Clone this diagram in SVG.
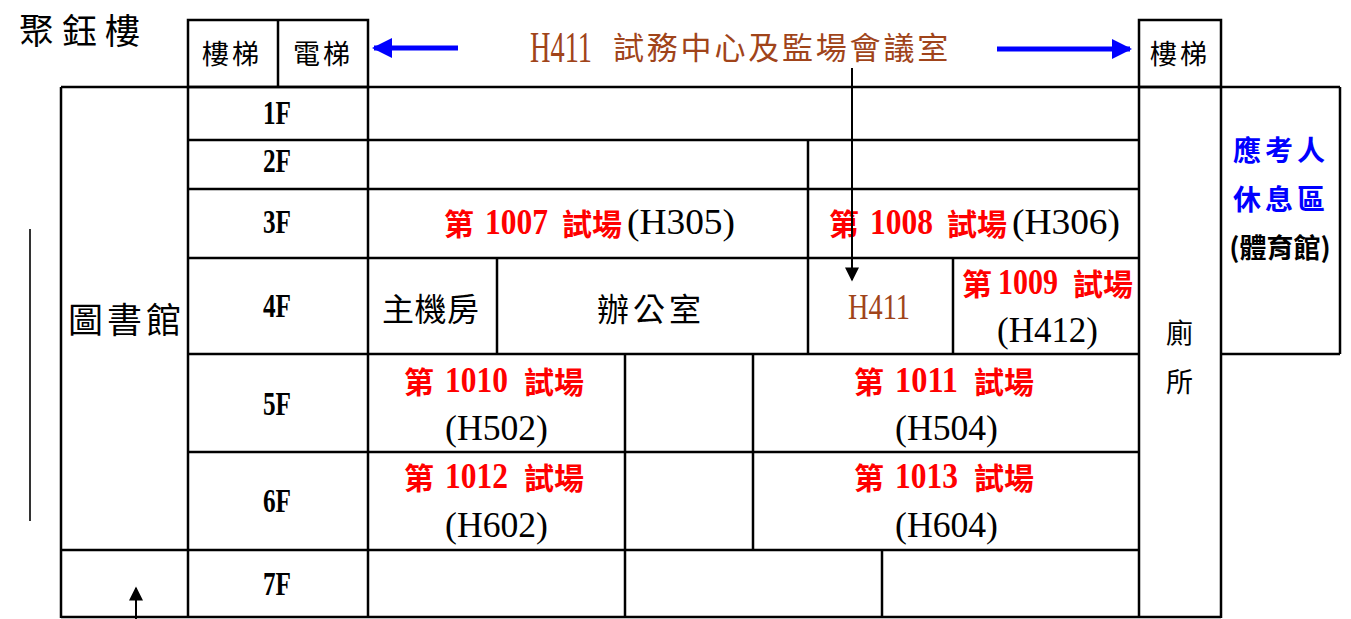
<svg xmlns="http://www.w3.org/2000/svg" width="1351" height="619" viewBox="0 0 1351 619">
<style>
.ln{stroke:#000;stroke-width:2.5;fill:none}
.cj{font-family:"Noto Sans CJK TC","Noto Sans CJK SC",sans-serif;fill:#000}
.la{font-family:"Liberation Serif","Noto Sans CJK TC",serif;fill:#000}
.fl{font-family:"Liberation Serif",serif;font-size:33px;font-weight:bold;fill:#000}
.rc{font-family:"Noto Sans CJK TC",sans-serif;font-size:30px;font-weight:bold;fill:#ff0000}
.rd{font-family:"Liberation Serif",serif;font-size:35px;font-weight:bold;fill:#ff0000}
.hb{font-family:"Liberation Serif",serif;font-size:35px;fill:#000}
.br{fill:#a0441a}
</style>
<defs>
<marker id="ab" viewBox="0 0 10 10" refX="9" refY="5" markerWidth="4" markerHeight="4" orient="auto" markerUnits="strokeWidth"><path d="M0,0 L10,5 L0,10 z" fill="#0000ff"/></marker>
<marker id="ak" viewBox="0 0 10 10" refX="9" refY="5" markerWidth="8" markerHeight="7" orient="auto" markerUnits="strokeWidth"><path d="M0,0 L10,5 L0,10 z" fill="#000"/></marker>
</defs>
<rect width="1351" height="619" fill="#fff"/>
<g id="title"><text class="cj" x="19" y="44" font-size="35" letter-spacing="8">聚鈺樓</text></g>
<g id="stairs-left">
<rect class="ln" x="188" y="20" width="180" height="67"/>
<line class="ln" x1="278" y1="20" x2="278" y2="87"/>
<text class="cj" x="202" y="64" font-size="27" letter-spacing="3">樓梯</text>
<text class="cj" x="293" y="64" font-size="27" letter-spacing="3">電梯</text>
</g>
<g id="stairs-right">
<rect class="ln" x="1139" y="20" width="82" height="67"/>
<text class="cj" x="1150" y="64" font-size="27" letter-spacing="3">樓梯</text>
</g>
<g id="header-label">
<text class="la br" transform="translate(530,62) scale(0.63,1)" x="0" y="0" font-size="45">H411</text>
<text class="cj br" x="613" y="59" font-size="31" letter-spacing="2.8">試務中心及監場會議室</text>
</g>
<g id="grid">
<line class="ln" x1="61" y1="87" x2="1340" y2="87"/>
<line class="ln" x1="61" y1="87" x2="61" y2="618"/>
<line class="ln" x1="188" y1="87" x2="188" y2="618"/>
<line class="ln" x1="368" y1="87" x2="368" y2="618"/>
<line class="ln" x1="1139" y1="87" x2="1139" y2="618"/>
<line class="ln" x1="1221" y1="87" x2="1221" y2="618"/>
<line class="ln" x1="1340" y1="87" x2="1340" y2="354"/>
<line class="ln" x1="1221" y1="354" x2="1340" y2="354"/>
<line class="ln" x1="188" y1="140" x2="1139" y2="140"/>
<line class="ln" x1="188" y1="189" x2="1139" y2="189"/>
<line class="ln" x1="188" y1="258" x2="1139" y2="258"/>
<line class="ln" x1="188" y1="354" x2="1139" y2="354"/>
<line class="ln" x1="188" y1="452" x2="1139" y2="452"/>
<line class="ln" x1="61" y1="550" x2="1139" y2="550"/>
<line class="ln" x1="61" y1="617" x2="1221" y2="617"/>
<line class="ln" x1="808" y1="140" x2="808" y2="354"/>
<line class="ln" x1="497" y1="258" x2="497" y2="354"/>
<line class="ln" x1="953" y1="258" x2="953" y2="354"/>
<line class="ln" x1="625" y1="354" x2="625" y2="550"/>
<line class="ln" x1="753" y1="354" x2="753" y2="550"/>
<line class="ln" x1="625" y1="550" x2="625" y2="618"/>
<line class="ln" x1="882" y1="550" x2="882" y2="618"/>
</g>
<g id="floors">
<text class="fl" x="263" y="124" textLength="28" lengthAdjust="spacingAndGlyphs">1F</text>
<text class="fl" x="263" y="172" textLength="28" lengthAdjust="spacingAndGlyphs">2F</text>
<text class="fl" x="263" y="233" textLength="28" lengthAdjust="spacingAndGlyphs">3F</text>
<text class="fl" x="263" y="317" textLength="28" lengthAdjust="spacingAndGlyphs">4F</text>
<text class="fl" x="263" y="415" textLength="28" lengthAdjust="spacingAndGlyphs">5F</text>
<text class="fl" x="263" y="512" textLength="28" lengthAdjust="spacingAndGlyphs">6F</text>
<text class="fl" x="263" y="595" textLength="28" lengthAdjust="spacingAndGlyphs">7F</text>
</g>
<g id="library"><text class="cj" x="68" y="333" font-size="35" letter-spacing="4">圖書館</text></g>
<g id="room-1007">
<text class="rc" x="444" y="235">第</text>
<text class="rd" x="485" y="234" textLength="63" lengthAdjust="spacingAndGlyphs">1007</text>
<text class="rc" x="562" y="235">試場</text>
<text class="hb" x="627" y="234" textLength="108" lengthAdjust="spacingAndGlyphs">(H305)</text>
</g>
<g id="room-1008">
<text class="rc" x="829" y="235">第</text>
<text class="rd" x="870" y="234" textLength="63" lengthAdjust="spacingAndGlyphs">1008</text>
<text class="rc" x="947" y="235">試場</text>
<text class="hb" x="1012" y="234" textLength="108" lengthAdjust="spacingAndGlyphs">(H306)</text>
</g>
<g id="server"><text class="cj" x="382" y="321" font-size="32" letter-spacing="0.5">主機房</text></g>
<g id="office"><text class="cj" x="597" y="321" font-size="32" letter-spacing="4">辦公室</text></g>
<g id="h411"><text class="la br" x="848" y="319" font-size="35" textLength="62" lengthAdjust="spacingAndGlyphs">H411</text></g>
<g id="room-1009">
<text class="rc" x="962" y="295" font-size="28">第</text>
<text class="rd" x="998" y="294" font-size="33" textLength="60" lengthAdjust="spacingAndGlyphs">1009</text>
<text class="rc" x="1073" y="295" font-size="28">試場</text>
<text class="hb" x="997" y="342" textLength="101" lengthAdjust="spacingAndGlyphs">(H412)</text>
</g>
<g id="room-1010">
<text class="rc" x="404" y="393">第</text>
<text class="rd" x="445" y="392" textLength="63" lengthAdjust="spacingAndGlyphs">1010</text>
<text class="rc" x="524" y="393">試場</text>
<text class="hb" x="445" y="440" textLength="103" lengthAdjust="spacingAndGlyphs">(H502)</text>
</g>
<g id="room-1011">
<text class="rc" x="854" y="393">第</text>
<text class="rd" x="895" y="392" textLength="63" lengthAdjust="spacingAndGlyphs">1011</text>
<text class="rc" x="974" y="393">試場</text>
<text class="hb" x="895" y="440" textLength="103" lengthAdjust="spacingAndGlyphs">(H504)</text>
</g>
<g id="room-1012">
<text class="rc" x="404" y="489">第</text>
<text class="rd" x="445" y="488" textLength="63" lengthAdjust="spacingAndGlyphs">1012</text>
<text class="rc" x="524" y="489">試場</text>
<text class="hb" x="445" y="537" textLength="103" lengthAdjust="spacingAndGlyphs">(H602)</text>
</g>
<g id="room-1013">
<text class="rc" x="854" y="489">第</text>
<text class="rd" x="895" y="488" textLength="63" lengthAdjust="spacingAndGlyphs">1013</text>
<text class="rc" x="974" y="489">試場</text>
<text class="hb" x="895" y="537" textLength="103" lengthAdjust="spacingAndGlyphs">(H604)</text>
</g>
<g id="toilet">
<text class="cj" x="1166" y="343" font-size="27">廁</text>
<text class="cj" x="1166" y="392" font-size="27">所</text>
</g>
<g id="rest-area">
<text class="cj" x="1233" y="161" font-size="28" font-weight="bold" letter-spacing="4" style="fill:#0000ff">應考人</text>
<text class="cj" x="1233" y="210" font-size="28" font-weight="bold" letter-spacing="4" style="fill:#0000ff">休息區</text>
<text class="cj" x="1280" y="258" font-size="27" font-weight="bold" text-anchor="middle">(體育館)</text>
</g>
<g id="connectors">
<line x1="458" y1="48" x2="374" y2="48" stroke="#0000ff" stroke-width="5" marker-end="url(#ab)"/>
<line x1="997" y1="49" x2="1130" y2="49" stroke="#0000ff" stroke-width="5" marker-end="url(#ab)"/>
<line x1="852" y1="68" x2="852" y2="280" stroke="#000" stroke-width="2" marker-end="url(#ak)"/>
<line x1="136" y1="619" x2="136" y2="588" stroke="#000" stroke-width="2" marker-end="url(#ak)"/>
<line x1="30" y1="229" x2="30" y2="521" stroke="#333" stroke-width="2"/>
</g>
</svg>
